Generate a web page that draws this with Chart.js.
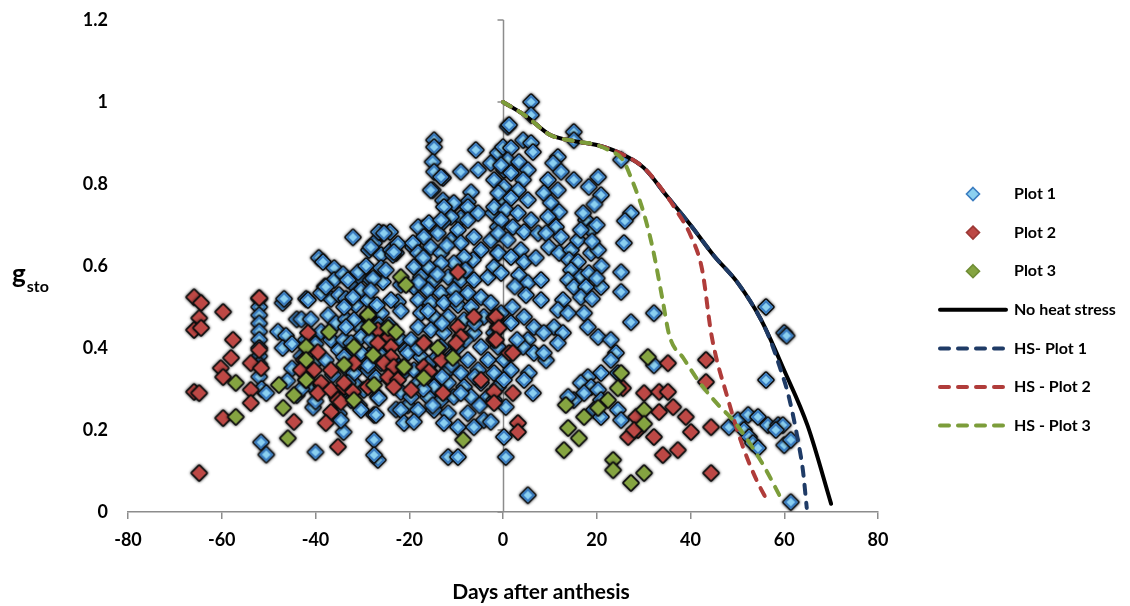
<!DOCTYPE html>
<html>
<head>
<meta charset="utf-8">
<script src="https://cdn.jsdelivr.net/npm/chart.js"></script>
<style>
  html, body { margin: 0; padding: 0; background: #fff; }
  #wrap { width: 1130px; height: 606px; }
</style>
</head>
<body>
<div id="wrap"><canvas id="myChart" width="1130" height="606"></canvas></div>
<script>
// tick labels
var xTicks = [-80, -60, -40, -20, 0, 20, 40, 60, 80];
var yTicks = [0, 0.2, 0.4, 0.6, 0.8, 1, 1.2];

// measured g_sto, [days after anthesis, value]
var plot1 = [
  [-52,0.52],[-52,0.50],[-52,0.48],[-52,0.46],[-52,0.44],[-52,0.42],[-52,0.40],[-52,0.38],[-52,0.36],[-52,0.33],[-51.5,0.30],[-50.5,0.29],[-51.6,0.17],[-50.5,0.14],
  [-47,0.51],[-48,0.44],[-46.3,0.43],[-47,0.40],[-45,0.41],[-45,0.35],[-46,0.32],[-44,0.285],[-40.5,0.255],[-46.7,0.52],[-44,0.47],
  [-42,0.52],[-43,0.47],[-41,0.47],[-42,0.42],[-40,0.41],[-43,0.38],[-39.7,0.37],[-42,0.34],[-41,0.31],[-40,0.27],[-40,0.146],[-43,0.30],
  [-39.3,0.62],[-38.4,0.61],[-38,0.55],[-36.7,0.52],[-35,0.53],[-37.3,0.48],[-35.6,0.46],[-38.8,0.44],[-36.7,0.42],[-35,0.395],[-37.8,0.37],[-36.3,0.335],[-38.8,0.31],[-35.4,0.28],[-35,0.24],[-34,0.195],[-36,0.595],[-36,0.566],[-41.6,0.517],[-38.8,0.534],[-37.8,0.549],
  [-32,0.67],[-34.1,0.58],[-32.4,0.56],[-30.7,0.575],[-33.5,0.52],[-31.4,0.505],[-33.5,0.47],[-30.9,0.455],[-34,0.42],[-31.8,0.395],[-30.3,0.37],[-33,0.345],[-31.4,0.31],[-33.5,0.285],[-30.7,0.26],
  [-30.9,0.585],[-28.2,0.566],[-25.6,0.561],[-33.1,0.566],[-30.3,0.541],[-32,0.524],[-28.8,0.517],[-22.4,0.512],[-33.9,0.5],[-26,0.485],[-28.8,0.476],[-31.8,0.468],[-33.5,0.451],[-26.7,0.437],[-30.3,0.427],[-32.4,0.412],[-27.5,0.395],[-30.3,0.388],[-33.9,0.378],[-26,0.363],[-28.8,0.346],[-31.8,0.339],[-33.1,0.315],[-29.7,0.298],[-26.7,0.281],[-32.4,0.273],[-30.3,0.249],[-34.6,0.224],[-27.5,0.237],[-27.5,0.176],[-26.7,0.127],[-27.5,0.139],
  [-25.6,0.68],[-27.5,0.656],[-28.6,0.639],[-26,0.627],[-23.9,0.639],[-22.8,0.632],
  [-28.2,0.646],[-26.5,0.683],[-29.2,0.60],[-27.7,0.57],[-26,0.595],[-28.2,0.54],[-26.9,0.505],[-28.8,0.48],[-26.5,0.456],[-28.2,0.42],[-26,0.383],[-28.8,0.358],[-27.1,0.327],[-26.5,0.278],[-27.1,0.237],
  [-24.1,0.683],[-22.4,0.654],[-23.5,0.627],[-25,0.59],[-21.8,0.554],[-23.9,0.517],[-21.8,0.49],[-24.3,0.456],[-22.2,0.424],[-20.7,0.395],[-23.5,0.37],[-21.3,0.34],[-23.9,0.32],[-21.8,0.293],[-20.3,0.26],[-22.8,0.25],[-21.8,0.249],[-21.1,0.217],[-23.3,0.634],[-25.4,0.68],[-19.2,0.646],
  [-14.7,0.907],[-14.7,0.89],[-15,0.854],[-14.7,0.83],[-12.8,0.815],[-15,0.785],[-12.8,0.76],[-10.7,0.749],[-9,0.83],[-5.8,0.883],[-5.3,0.834],[-6.8,0.78],[-7.5,0.756],[-9,0.717],[-11.1,0.72],[-12.8,0.707],[-16.9,0.693],[-13.2,0.817],[-15.4,0.785],[-10.5,0.754],[-7.5,0.744],[-12.6,0.744],[-2.6,0.851],
  [-18.1,0.695],[-15.8,0.705],[-13.9,0.68],[-16.9,0.671],[-19.2,0.656],[-13.2,0.712],[-15.4,0.646],[-18.1,0.632],[-13.2,0.632],[-11.1,0.663],[-9.6,0.688],[-9,0.656],[-7.5,0.712],[-6.2,0.671],[-5.3,0.729],[-4.7,0.639],[-6.4,0.615],[-8.3,0.622],[-10.5,0.607],[-13.2,0.607],[-16,0.598],[-19,0.598],[-17.5,0.573],[-14.7,0.566],[-11.7,0.573],[-9,0.566],[-6.2,0.566],[-3.2,0.573],[-1.9,0.598],[-1.1,0.632],[-2.6,0.663],[-1.1,0.695],[-2.1,0.729],[-0.4,0.761],[-1.9,0.81],[0.2,0.834],[-1.1,0.876],[0,0.89],[1,0.94],
  [-19,0.549],[-16,0.541],[-13.2,0.534],[-10.5,0.541],[-7.5,0.534],[-4.7,0.524],[-18.1,0.517],[-15.4,0.51],[-12.6,0.51],[-9.6,0.505],[-6.8,0.5],[-2.6,0.51],[-17.5,0.485],[-14.7,0.476],[-11.7,0.476],[-8.3,0.468],[-4.1,0.476],[-0.4,0.485],[-18.1,0.451],[-15.4,0.444],[-12.6,0.437],[-9,0.427],[-6.2,0.437],[-1.9,0.437],[-19.6,0.42],[-16.9,0.412],[-13.2,0.403],[-9.6,0.403],[-4.7,0.403],[-1.1,0.403],[-20.3,0.388],[-17.5,0.378],[-14.7,0.371],[-11.1,0.378],[-7.5,0.371],[-3.2,0.371],[-19,0.346],[-15.4,0.339],[-11.7,0.346],[-9,0.339],[-5.3,0.346],[-1.9,0.339],[-18.1,0.315],[-14.7,0.305],[-11.7,0.315],[-8.3,0.305],[-4.7,0.315],[-1.1,0.305],[-19.6,0.281],[-16,0.281],[-13.2,0.273],[-10.5,0.281],[-6.8,0.281],[-3.2,0.281],[-18.1,0.249],[-14.7,0.249],[-11.7,0.241],[-7.5,0.241],[-4.1,0.224],[-12.6,0.217],[-9.6,0.207],[-6.2,0.207],[-11.7,0.134],[-9.6,0.134],[-2.6,0.22],
  [-17,0.62],[-12,0.65],[-8,0.59],[-14,0.58],[-18,0.56],[-10,0.52],[-16,0.49],[-6,0.46],[-13,0.46],[-8,0.42],[-18,0.40],[-11,0.36],[-16,0.36],[-6,0.33],[-13,0.33],[-9,0.29],[-17,0.30],[-5,0.26],[-15,0.26],[-19,0.22],
  [1.3,0.944],[4.3,0.907],[6,0.9],[1.7,0.888],[6.4,0.878],[1,0.858],[3.4,0.854],[-0.4,0.846],[5.3,0.834],[1.7,0.827],[4.3,0.81],[0.2,0.793],[3.2,0.785],[-1,0.778],[1.7,0.766],[5.3,0.761],[-1.9,0.744],[0.6,0.737],[3.2,0.729],[6,0.712],[-0.4,0.712],[2.1,0.695],[4.5,0.683],[-1,0.68],[1,0.663],[3.8,0.639],[-1,0.632],[1.7,0.622],[4.5,0.61],[-0.4,0.583],[3.4,0.578],[5.3,0.559],[4.9,0.529],[1.7,0.461],[4.5,0.476],[5.3,0.42],[4.3,0.403],[6.6,0.388],[0.2,0.371],[1.7,0.346],[5.5,0.339],[4.5,0.322],[0.2,0.322],[6.4,0.29],[-1.9,0.273],[0.6,0.256],[0.2,0.183],[0.6,0.134],[5.3,0.041],[6,1.0],[6,0.968],[6.6,0.451],[9.2,0.37],[8.1,0.517],[8.1,0.566],[2.5,0.55],[2,0.5],[3,0.42],[7,0.62],[7.5,0.68],
  [11.7,0.866],[10.7,0.851],[12.4,0.83],[15.1,0.81],[20.3,0.817],[18.3,0.793],[20.9,0.773],[9.6,0.81],[8.7,0.778],[11.7,0.785],[10.2,0.754],[12,0.732],[9.6,0.72],[11.3,0.695],[9.2,0.68],[12.4,0.671],[9.8,0.646],[12,0.632],[14.5,0.639],[16,0.663],[17.7,0.712],[17.1,0.729],[18.8,0.688],[16.6,0.688],[14.1,0.615],[16,0.61],[18.8,0.632],[20.3,0.639],[14.5,0.59],[16.6,0.573],[18.3,0.583],[13.9,0.566],[15.1,0.549],[20.9,0.549],[17.7,0.549],[16.6,0.524],[12.8,0.517],[11.7,0.493],[13.9,0.485],[17.3,0.485],[18.1,0.451],[10.9,0.451],[8.7,0.437],[12.8,0.437],[11.7,0.412],[8.7,0.388],[20.3,0.427],[23,0.42],[24.1,0.388],[23,0.371],[24.5,0.339],[20.9,0.339],[18.1,0.329],[16.6,0.315],[18.8,0.305],[17.3,0.29],[20.3,0.298],[20.9,0.273],[19.4,0.249],[15.1,0.273],[13.9,0.281],[24.5,0.249],[25.2,0.224],[20.9,0.232],[15.1,0.927],[15.1,0.907],[25.2,0.859],[27.3,0.729],[26,0.71],[25.8,0.656],[25.2,0.585],[25.2,0.537],[27.3,0.463],
  [19.5,0.75],[20,0.70],[19,0.66],[21,0.60],[20,0.57],[19,0.52],
  [32.2,0.485],[32.2,0.358],[56.1,0.5],[60,0.437],[56.1,0.322],[48.2,0.207],[50.1,0.224],[52.3,0.237],[54.4,0.232],[56.5,0.212],[58.7,0.212],[59.7,0.212],[51.4,0.2],[52.5,0.183],[53.3,0.168],[54.4,0.156],[58.2,0.2],[60,0.163],[61.4,0.176],[61.4,0.024],[60.5,0.43]
];

var plot2 = [
  [-65.9,0.524],[-64.4,0.51],[-64.8,0.473],[-65.9,0.444],[-64.4,0.449],[-59.7,0.488],[-57.6,0.42],[-58,0.376],[-60.2,0.351],[-59.7,0.329],[-53.8,0.363],[-53.8,0.298],[-53.8,0.266],[-65.9,0.293],[-64.8,0.29],[-59.7,0.229],[-64.8,0.095],[-52,0.522],[-52,0.395],[-51.6,0.351],
  [-41.6,0.437],[-39.5,0.39],[-42.5,0.371],[-43.1,0.346],[-40.3,0.346],[-42,0.322],[-38.8,0.315],[-36.7,0.346],[-39.5,0.29],[-36.7,0.298],[-33.9,0.305],[-35.2,0.273],[-36.7,0.244],[-37.8,0.217],[-44.6,0.22],[-35.2,0.159],
  [-9.6,0.585],[-26.7,0.444],[-24.3,0.427],[-23.9,0.403],[-26.7,0.412],[-23.9,0.378],[-25.4,0.363],[-23.3,0.354],[-24.5,0.329],[-22.4,0.322],[-23.3,0.305],[-21.1,0.354],[-16.9,0.412],[-19.6,0.298],[-16.9,0.354],[-15.8,0.342],[-12.8,0.29],[-13.2,0.371],[-9.6,0.451],[-9,0.427],[-10,0.412],[-6.2,0.476],[-1.9,0.473],[-1.1,0.451],[-1.9,0.42],[-4.7,0.322],[-1.9,0.293],[-1.9,0.266],[-28.8,0.305],[-31.8,0.363],[-33.9,0.315],[-32,0.293],[-34.6,0.268],
  [-1.5,0.476],[-0.9,0.449],[-1.5,0.42],[1.3,0.388],[2.1,0.388],[2.1,0.29],[3.2,0.217],[3.2,0.195],[25.6,0.302],[26.7,0.183],[28.8,0.2],[30.1,0.29],
  [35.2,0.363],[43.3,0.371],[43.3,0.317],[33.3,0.293],[35.2,0.293],[28.4,0.232],[33.3,0.244],[36.3,0.256],[39,0.232],[40.1,0.195],[44.4,0.207],[32.2,0.183],[34.1,0.139],[37.3,0.151],[44.4,0.095],[28,0.2]
];

var plot3 = [
  [-37.1,0.439],[-42,0.403],[-42,0.371],[-42,0.322],[-33.9,0.359],[-57,0.315],[-47.8,0.31],[-44.6,0.285],[-46.9,0.254],[-57,0.232],[-45.9,0.18],
  [-21.8,0.573],[-20.7,0.554],[-28.8,0.481],[-28.6,0.451],[-24.5,0.449],[-22.8,0.439],[-31.8,0.403],[-27.7,0.383],[-21.1,0.354],[-13.9,0.4],[-10.7,0.376],[-16.9,0.327],[-27.5,0.31],[-31.8,0.273],[-8.5,0.176],
  [25.2,0.339],[24.5,0.302],[22.4,0.273],[20.3,0.254],[17.3,0.232],[13.9,0.205],[13.4,0.261],[16.2,0.18],[13,0.151],[23.5,0.127],[23.5,0.102],[27.3,0.071],[30.1,0.095],[30.9,0.378],[30.1,0.249],[30.1,0.215]
];

// modelled curves
var noHeatX = [0, 5, 10, 15, 20, 25, 30, 35, 40, 45, 50, 55, 60, 65, 70];
var noHeatY = [1.0, 0.965, 0.92, 0.905, 0.895, 0.875, 0.84, 0.77, 0.70, 0.625, 0.56, 0.47, 0.345, 0.21, 0.02];
var hs1X = [0, 5, 10, 15, 20, 25, 30, 35, 40, 45, 50, 55, 57, 59, 61, 63, 64, 64.8];
var hs1Y = [1.0, 0.965, 0.92, 0.905, 0.895, 0.875, 0.84, 0.77, 0.70, 0.625, 0.56, 0.47, 0.42, 0.355, 0.28, 0.17, 0.10, 0.01];
var hs2X = [0, 5, 10, 15, 20, 25, 30, 35, 37, 40, 42.5, 44.5, 48, 51, 54, 56.5];
var hs2Y = [1.0, 0.965, 0.92, 0.905, 0.895, 0.875, 0.84, 0.77, 0.735, 0.675, 0.59, 0.43, 0.275, 0.165, 0.08, 0.025];
var hs3X = [0, 5, 10, 15, 20, 23, 25.5, 27.5, 30, 32, 34, 35.5, 38.5, 42, 46, 49, 52.5, 56, 59];
var hs3Y = [1.0, 0.965, 0.92, 0.905, 0.895, 0.88, 0.86, 0.81, 0.73, 0.64, 0.52, 0.43, 0.375, 0.315, 0.26, 0.225, 0.17, 0.105, 0.04];

function pts(arr) { return arr.map(function (p) { return { x: p[0], y: p[1] }; }); }
function xy(xs, ys) { return xs.map(function (x, i) { return { x: x, y: ys[i] }; }); }

function diamond(g, cx, cy, r) {
  g.beginPath();
  g.moveTo(cx, cy - r); g.lineTo(cx + r, cy); g.lineTo(cx, cy + r); g.lineTo(cx - r, cy); g.closePath();
}

// marker sprite: coloured diamond with a dark glow round it
function marker(fill, ring) {
  var c = document.createElement('canvas');
  c.width = 24; c.height = 24;
  var g = c.getContext('2d');
  diamond(g, 12, 12, 7);
  g.shadowColor = 'rgba(0,0,0,0.85)';
  g.shadowBlur = 3;
  g.lineWidth = 3.5;
  g.strokeStyle = '#111';
  g.lineJoin = 'round';
  g.stroke();
  g.shadowBlur = 0;
  g.fillStyle = fill;
  g.fill();
  if (ring) {
    diamond(g, 12, 12, 5.8);
    g.lineWidth = 2.2;
    g.strokeStyle = ring;
    g.stroke();
  }
  return c;
}

var colors = {
  p1: '#8bd0f0', p1ring: '#3a7cc0', p2: '#bd4845', p3: '#85a441',
  none: '#000000', hs1: '#1f3b66', hs2: '#b03c3a', hs3: '#7c9d3a'
};

var legendItems = [
  { label: 'Plot 1', kind: 'pt', fill: colors.p1, ring: colors.p1ring },
  { label: 'Plot 2', kind: 'pt', fill: colors.p2, ring: '#9c3936' },
  { label: 'Plot 3', kind: 'pt', fill: colors.p3, ring: '#6f8d35' },
  { label: 'No heat stress', kind: 'line', color: colors.none, dash: [] },
  { label: 'HS- Plot 1', kind: 'line', color: colors.hs1, dash: [9, 9] },
  { label: 'HS - Plot 2', kind: 'line', color: colors.hs2, dash: [9, 9] },
  { label: 'HS - Plot 3', kind: 'line', color: colors.hs3, dash: [9, 9] }
];

var decor = {
  id: 'decor',
  beforeDatasetsDraw: function (chart) {
    var ctx = chart.ctx, xs = chart.scales.x, ys = chart.scales.y, a = chart.chartArea;
    var x0 = Math.round(xs.getPixelForValue(0)) + 0.5;
    ctx.save();
    ctx.strokeStyle = '#8c8c8c';
    ctx.lineWidth = 1.5;
    ctx.beginPath();
    ctx.moveTo(x0, a.top); ctx.lineTo(x0, a.bottom);
    yTicks.forEach(function (v) {
      var y = ys.getPixelForValue(v);
      ctx.moveTo(x0 - 6, y); ctx.lineTo(x0, y);
    });
    ctx.stroke();
    ctx.restore();
  },
  afterDraw: function (chart) {
    var ctx = chart.ctx;
    ctx.save();
    ctx.fillStyle = '#000';
    // axis titles
    ctx.font = 'bold 21px Lato';
    ctx.textAlign = 'center';
    ctx.textBaseline = 'middle';
    ctx.fillText('Days after anthesis', 541, 592);
    ctx.textAlign = 'left';
    ctx.textBaseline = 'alphabetic';
    ctx.font = 'bold 26px Lato';
    ctx.fillText('g', 12, 283);
    var gw = ctx.measureText('g').width;
    ctx.font = 'bold 16px Lato';
    ctx.fillText('sto', 12 + gw + 1, 292);
    // legend
    legendItems.forEach(function (it, i) {
      var y = 194 + i * 38.6;
      if (it.kind === 'pt') {
        diamond(ctx, 973, y, 6.5);
        ctx.fillStyle = it.fill;
        ctx.fill();
        ctx.lineWidth = 1.6;
        ctx.strokeStyle = it.ring;
        ctx.stroke();
      } else {
        ctx.beginPath();
        ctx.setLineDash(it.dash);
        ctx.lineCap = 'round';
        ctx.lineWidth = 4;
        ctx.strokeStyle = it.color;
        ctx.moveTo(940, y); ctx.lineTo(1006, y);
        ctx.stroke();
        ctx.setLineDash([]);
      }
      ctx.fillStyle = '#000';
      ctx.font = 'bold 16px Lato';
      ctx.textBaseline = 'middle';
      ctx.fillText(it.label, 1014, y);
    });
    ctx.restore();
  }
};

function curve(label, xs, ys, color, dash, order) {
  return {
    type: 'line', label: label, data: xy(xs, ys),
    borderColor: color, borderWidth: 4, borderDash: dash, borderCapStyle: 'round',
    pointRadius: 0, fill: false, cubicInterpolationMode: 'monotone', order: order
  };
}

var ctx = document.getElementById('myChart').getContext('2d');
var myChart = new Chart(ctx, {
  type: 'scatter',
  data: {
    datasets: [
      { label: 'Plot 1', data: pts(plot1), pointStyle: marker(colors.p1, colors.p1ring), pointRadius: 7, order: 7 },
      { label: 'Plot 2', data: pts(plot2), pointStyle: marker(colors.p2), pointRadius: 7, order: 6 },
      { label: 'Plot 3', data: pts(plot3), pointStyle: marker(colors.p3), pointRadius: 7, order: 5 },
      curve('No heat stress', noHeatX, noHeatY, colors.none, [], 4),
      curve('HS- Plot 1', hs1X, hs1Y, colors.hs1, [9, 9], 3),
      curve('HS - Plot 2', hs2X, hs2Y, colors.hs2, [9, 9], 2),
      curve('HS - Plot 3', hs3X, hs3Y, colors.hs3, [9, 9], 1)
    ]
  },
  options: {
    responsive: false,
    animation: false,
    layout: { padding: { top: 20, right: 252, bottom: 0, left: 0 } },
    plugins: { legend: { display: false }, tooltip: { enabled: false } },
    scales: {
      x: {
        type: 'linear', min: -80, max: 80,
        afterFit: function (s) { s.height = 94; },
        afterBuildTicks: function (s) { s.ticks = xTicks.map(function (v) { return { value: v }; }); },
        ticks: { font: { family: 'Lato', size: 18, weight: 'bold' }, color: '#000', padding: 10 },
        grid: { drawOnChartArea: false, drawTicks: true, tickLength: 7, color: '#8c8c8c', lineWidth: 1.5 },
        border: { display: true, color: '#8c8c8c', width: 1.5 }
      },
      y: {
        min: 0, max: 1.2,
        afterFit: function (s) { s.width = 128; s.paddingTop = 10; s.paddingBottom = 10; },
        afterBuildTicks: function (s) { s.ticks = yTicks.map(function (v) { return { value: v }; }); },
        ticks: {
          font: { family: 'Lato', size: 18, weight: 'bold' }, color: '#000', padding: 20,
          callback: function (v) { return String(Math.round(v * 10) / 10); }
        },
        grid: { display: false, drawTicks: false },
        border: { display: false }
      }
    }
  },
  plugins: [decor]
});
</script>
</body>
</html>
